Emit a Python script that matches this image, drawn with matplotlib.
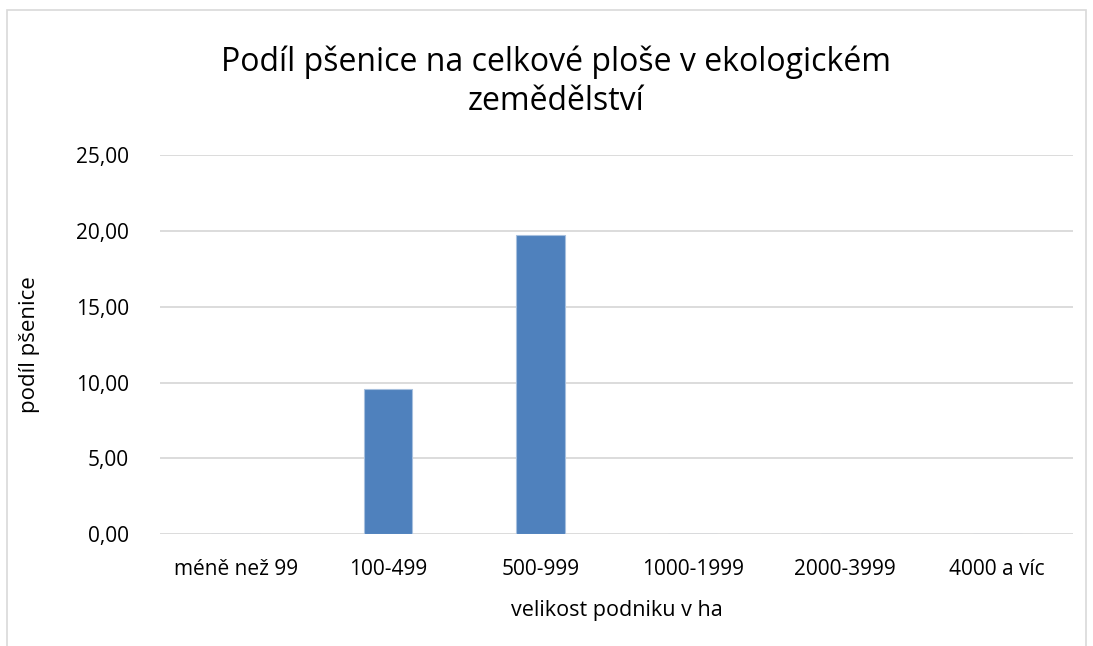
import matplotlib
matplotlib.use("Agg")
import matplotlib.pyplot as plt
from matplotlib.patches import Rectangle

# data
kategorie = ["méně než 99", "100-499", "500-999", "1000-1999", "2000-3999", "4000 a víc"]
podil = [0.0, 9.56, 19.72, 0.0, 0.0, 0.0]
y_ticks = [0, 5, 10, 15, 20, 25]

plt.rcParams['font.family'] = ['Open Sans', 'DejaVu Sans']

fig = plt.figure(figsize=(10.93, 6.46), dpi=100)
ax = fig.add_axes([0.146, 0.173, 0.836, 0.587])

x = range(len(kategorie))
ax.bar(x, podil, width=0.32, color="#4f81bd", edgecolor="#a7c0de", linewidth=0.8, zorder=3)

ax.set_xlim(-0.5, len(kategorie) - 0.5)
ax.set_ylim(0, 25)
ax.set_yticks(y_ticks)
ax.set_yticklabels([f"{v:.2f}".replace(".", ",") for v in y_ticks], fontsize=15)
ax.set_xticks(list(x))
ax.set_xticklabels(kategorie, fontsize=15)
ax.tick_params(length=0, pad=18)
ax.tick_params(axis="y", pad=22)
ax.grid(axis="y", color="#d9d9d9", linewidth=1.3, zorder=0)
for s in ax.spines.values():
    s.set_visible(False)

ax.set_xlabel("velikost podniku v ha", fontsize=15.5, labelpad=14)
ax.set_ylabel("podíl pšenice", fontsize=16, labelpad=26)
fig.text(0.509, 0.874, "Podíl pšenice na celkové ploše v ekologickém\nzemědělství",
         ha="center", va="center", fontsize=23, linespacing=1.25)

# rámeček grafu
fig.patches.append(Rectangle((0.0064, -0.1), 0.9872, 1.085, transform=fig.transFigure,
                             fill=False, edgecolor="#d9d9d9", linewidth=1.2))

fig.savefig("out.png", dpi=100)
